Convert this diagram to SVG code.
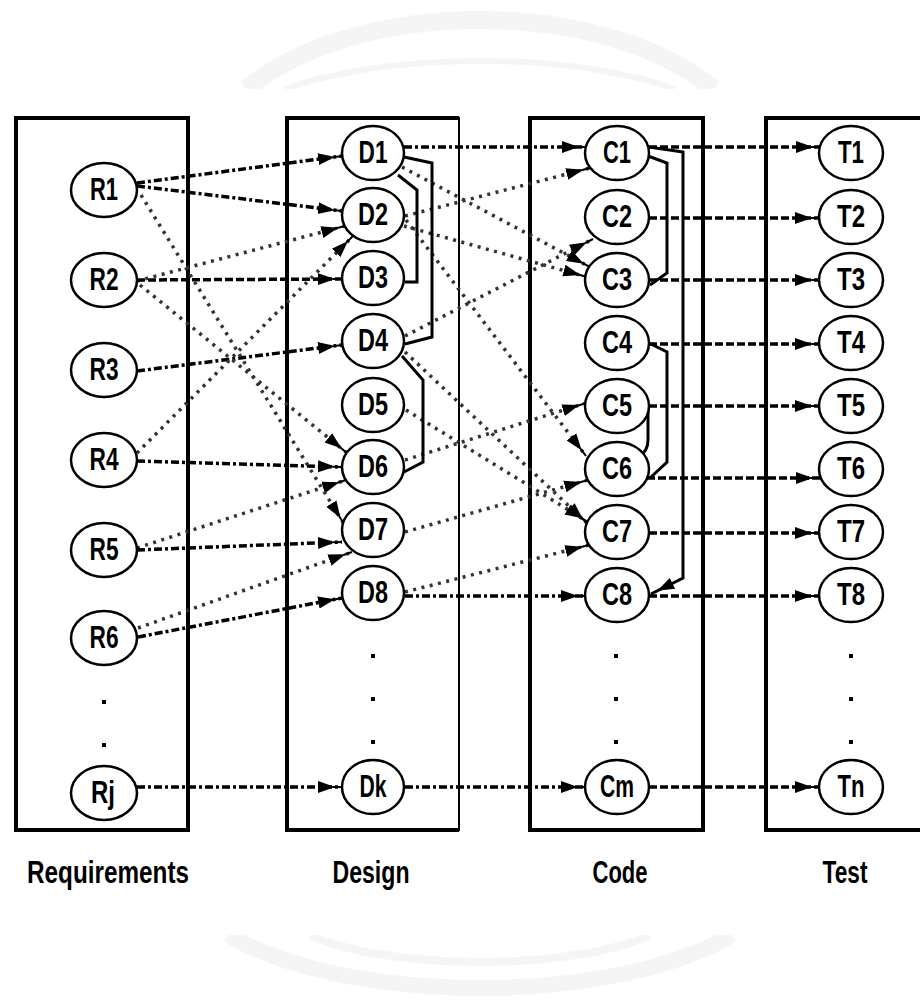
<svg xmlns="http://www.w3.org/2000/svg" width="920" height="1000" viewBox="0 0 920 1000">
<defs>
<style>
.box{fill:none;stroke:#000;stroke-width:4}
.node ellipse{fill:#fff;stroke:#000;stroke-width:2.5}
.lbl{font-family:"Liberation Sans",Arial,sans-serif;font-weight:bold;font-size:32px;text-anchor:middle;fill:#000}
.cap{font-family:"Liberation Sans",Arial,sans-serif;font-weight:bold;font-size:31px;text-anchor:middle;fill:#000}
.s{fill:none;stroke:#000;stroke-width:3.5;stroke-dasharray:8 3 3 3}
.h{fill:none;stroke:#000;stroke-width:3.5;stroke-dasharray:8 3}
.w{fill:none;stroke:#333;stroke-width:3.5;stroke-dasharray:3 5.5}
.br{fill:none;stroke:#000;stroke-width:3}
.wm{fill:none;stroke:#f5f5f5}
.dot{fill:#000}
</style>
<marker id="a" markerUnits="userSpaceOnUse" markerWidth="28" markerHeight="18" viewBox="0 0 28 18" refX="24" refY="9" orient="auto">
<path d="M0,3 L17,9 L0,15 Z" fill="#000"/>
<path d="M15,9 H24" stroke="#000" stroke-width="2"/>
</marker>
<clipPath id="ct"><rect x="0" y="0" width="920" height="89"/></clipPath>
<clipPath id="cb"><rect x="0" y="935" width="920" height="65"/></clipPath>
</defs>
<rect width="920" height="1000" fill="#fff"/>
<g id="watermark">
<g clip-path="url(#ct)">
<path class="wm" stroke-width="18" d="M246,89 A280,153 0 0 1 714,89"/>
<path class="wm" stroke-width="6" d="M285,89 A260,83 0 0 1 675,89"/>
</g>
<g clip-path="url(#cb)">
<path class="wm" stroke-width="16" d="M228,935 A300,116 0 0 0 732,935"/>
<path class="wm" stroke-width="8" d="M310,935 A200,57 0 0 0 650,935"/>
</g>
</g>
<g id="boxes">
<rect id="box-requirements" class="box" x="16" y="118" width="172" height="712"/>
<path id="box-design" class="box" d="M459,118 H287 V830 H459"/>
<path d="M459,117 V831" stroke="#000" stroke-width="2"/>
<rect id="box-code" class="box" x="530" y="118" width="173" height="712"/>
<path id="box-test" class="box" d="M925,118 H766 V830 H925"/>
</g>
<g id="connectors">
<path class="s" d="M137,183 L342,156" marker-end="url(#a)"/>
<path class="s" d="M137,186 L342,211" marker-end="url(#a)"/>
<path class="w" d="M137,281 L345,226" marker-end="url(#a)"/>
<path class="h" d="M137,280 L342,279" marker-end="url(#a)"/>
<path class="s" d="M137,371 L342,345" marker-end="url(#a)"/>
<path class="w" d="M137,453 L353,236" marker-end="url(#a)"/>
<path class="w" d="M140,285 L347,453" marker-end="url(#a)"/>
<path class="s" d="M137,461 L342,467" marker-end="url(#a)"/>
<path class="w" d="M137,548 L346,480" marker-end="url(#a)"/>
<path class="w" d="M141,195 L344,524" marker-end="url(#a)"/>
<path class="s" d="M137,550 L342,542" marker-end="url(#a)"/>
<path class="w" d="M138,628 L352,552" marker-end="url(#a)"/>
<path class="s" d="M138,637 L342,598" marker-end="url(#a)"/>
<path class="s" d="M137,787 L342,787" marker-end="url(#a)"/>
<path class="s" d="M404,147 L586,147" marker-end="url(#a)"/>
<path class="w" d="M405,216 L590,168" marker-end="url(#a)"/>
<path class="w" d="M402,167 L590,267" marker-end="url(#a)"/>
<path class="w" d="M404,226 L587,277" marker-end="url(#a)"/>
<path class="w" d="M406,220 L586,456" marker-end="url(#a)"/>
<path class="w" d="M405,336 L593,239" marker-end="url(#a)"/>
<path class="w" d="M405,352 L588,524" marker-end="url(#a)"/>
<path class="w" d="M406,410 L588,522" marker-end="url(#a)"/>
<path class="w" d="M405,460 L586,403" marker-end="url(#a)"/>
<path class="w" d="M405,532 L588,480" marker-end="url(#a)"/>
<path class="w" d="M405,592 L589,545" marker-end="url(#a)"/>
<path class="s" d="M405,596 L585,596" marker-end="url(#a)"/>
<path class="s" d="M405,787 L585,787" marker-end="url(#a)"/>
<path class="h" d="M649,147 L820,147" marker-end="url(#a)"/>
<path class="h" d="M649,218 L819,218" marker-end="url(#a)"/>
<path class="h" d="M649,280 L819,280" marker-end="url(#a)"/>
<path class="h" d="M649,344 L819,344" marker-end="url(#a)"/>
<path class="h" d="M649,406 L819,406" marker-end="url(#a)"/>
<path class="h" d="M647,478 L820,478" marker-end="url(#a)"/>
<path class="h" d="M649,533 L819,533" marker-end="url(#a)"/>
<path class="h" d="M649,596 L819,596" marker-end="url(#a)"/>
<path class="h" d="M649,787 L819,787" marker-end="url(#a)"/>
<path class="br" d="M398,175 L417,190 L417,282 L405,282"/>
<path class="br" d="M404,157 L432,163 L432,337 L405,344"/>
<path class="br" d="M402,356 L423,380 L423,462 L404,472"/>
<path class="br" d="M648,156 L667,163 L667,273 L650,285"/>
<path class="br" d="M649,147 L683,152 L683,578 L651,594" marker-end="url(#a)"/>
<path class="br" d="M649,343 L667,352 L667,462 L650,478"/>
<path class="br" stroke-width="2.5" d="M648,408 L648,440 Q648,452 638,457"/>
</g>
<g id="R1" class="node"><ellipse cx="104" cy="190" rx="33" ry="27"/><text class="lbl" x="104" y="200" textLength="28" lengthAdjust="spacingAndGlyphs">R1</text></g>
<g id="R2" class="node"><ellipse cx="104" cy="280" rx="33" ry="27"/><text class="lbl" x="104" y="290" textLength="29" lengthAdjust="spacingAndGlyphs">R2</text></g>
<g id="R3" class="node"><ellipse cx="104" cy="370" rx="33" ry="27"/><text class="lbl" x="104" y="380" textLength="29" lengthAdjust="spacingAndGlyphs">R3</text></g>
<g id="R4" class="node"><ellipse cx="104" cy="460" rx="33" ry="27"/><text class="lbl" x="104" y="470" textLength="29" lengthAdjust="spacingAndGlyphs">R4</text></g>
<g id="R5" class="node"><ellipse cx="104" cy="550" rx="33" ry="27"/><text class="lbl" x="104" y="560" textLength="29" lengthAdjust="spacingAndGlyphs">R5</text></g>
<g id="R6" class="node"><ellipse cx="104" cy="638" rx="33" ry="27"/><text class="lbl" x="104" y="648" textLength="29" lengthAdjust="spacingAndGlyphs">R6</text></g>
<g id="Rj" class="node"><ellipse cx="104" cy="793" rx="33" ry="27"/><text class="lbl" x="103" y="803" textLength="24" lengthAdjust="spacingAndGlyphs">Rj</text></g>
<g id="D1" class="node"><ellipse cx="373" cy="153" rx="31" ry="27"/><text class="lbl" x="373" y="163" textLength="29" lengthAdjust="spacingAndGlyphs">D1</text></g>
<g id="D2" class="node"><ellipse cx="373" cy="215" rx="31" ry="27"/><text class="lbl" x="373" y="225" textLength="30" lengthAdjust="spacingAndGlyphs">D2</text></g>
<g id="D3" class="node"><ellipse cx="373" cy="278" rx="31" ry="27"/><text class="lbl" x="373" y="288" textLength="30" lengthAdjust="spacingAndGlyphs">D3</text></g>
<g id="D4" class="node"><ellipse cx="373" cy="341" rx="31" ry="27"/><text class="lbl" x="373" y="351" textLength="30" lengthAdjust="spacingAndGlyphs">D4</text></g>
<g id="D5" class="node"><ellipse cx="373" cy="405" rx="31" ry="27"/><text class="lbl" x="373" y="415" textLength="30" lengthAdjust="spacingAndGlyphs">D5</text></g>
<g id="D6" class="node"><ellipse cx="373" cy="467" rx="31" ry="27"/><text class="lbl" x="373" y="477" textLength="30" lengthAdjust="spacingAndGlyphs">D6</text></g>
<g id="D7" class="node"><ellipse cx="373" cy="530" rx="31" ry="27"/><text class="lbl" x="373" y="540" textLength="30" lengthAdjust="spacingAndGlyphs">D7</text></g>
<g id="D8" class="node"><ellipse cx="373" cy="593" rx="31" ry="27"/><text class="lbl" x="373" y="603" textLength="30" lengthAdjust="spacingAndGlyphs">D8</text></g>
<g id="Dk" class="node"><ellipse cx="373" cy="787" rx="31" ry="27"/><text class="lbl" x="373" y="797" textLength="27" lengthAdjust="spacingAndGlyphs">Dk</text></g>
<g id="C1" class="node"><ellipse cx="617" cy="153" rx="32" ry="27"/><text class="lbl" x="617" y="163" textLength="28" lengthAdjust="spacingAndGlyphs">C1</text></g>
<g id="C2" class="node"><ellipse cx="617" cy="217" rx="32" ry="27"/><text class="lbl" x="617" y="227" textLength="30" lengthAdjust="spacingAndGlyphs">C2</text></g>
<g id="C3" class="node"><ellipse cx="617" cy="280" rx="32" ry="27"/><text class="lbl" x="617" y="290" textLength="30" lengthAdjust="spacingAndGlyphs">C3</text></g>
<g id="C4" class="node"><ellipse cx="617" cy="343" rx="32" ry="27"/><text class="lbl" x="617" y="353" textLength="30" lengthAdjust="spacingAndGlyphs">C4</text></g>
<g id="C5" class="node"><ellipse cx="617" cy="406" rx="32" ry="27"/><text class="lbl" x="617" y="416" textLength="30" lengthAdjust="spacingAndGlyphs">C5</text></g>
<g id="C6" class="node"><ellipse cx="617" cy="469" rx="32" ry="27"/><text class="lbl" x="617" y="479" textLength="30" lengthAdjust="spacingAndGlyphs">C6</text></g>
<g id="C7" class="node"><ellipse cx="617" cy="532" rx="32" ry="27"/><text class="lbl" x="617" y="542" textLength="30" lengthAdjust="spacingAndGlyphs">C7</text></g>
<g id="C8" class="node"><ellipse cx="617" cy="595" rx="32" ry="27"/><text class="lbl" x="617" y="605" textLength="30" lengthAdjust="spacingAndGlyphs">C8</text></g>
<g id="Cm" class="node"><ellipse cx="617" cy="787" rx="32" ry="27"/><text class="lbl" x="617" y="797" textLength="34" lengthAdjust="spacingAndGlyphs">Cm</text></g>
<g id="T1" class="node"><ellipse cx="851" cy="153" rx="32" ry="27"/><text class="lbl" x="851" y="163" textLength="26" lengthAdjust="spacingAndGlyphs">T1</text></g>
<g id="T2" class="node"><ellipse cx="851" cy="217" rx="32" ry="27"/><text class="lbl" x="851" y="227" textLength="28" lengthAdjust="spacingAndGlyphs">T2</text></g>
<g id="T3" class="node"><ellipse cx="851" cy="280" rx="32" ry="27"/><text class="lbl" x="851" y="290" textLength="28" lengthAdjust="spacingAndGlyphs">T3</text></g>
<g id="T4" class="node"><ellipse cx="851" cy="343" rx="32" ry="27"/><text class="lbl" x="851" y="353" textLength="28" lengthAdjust="spacingAndGlyphs">T4</text></g>
<g id="T5" class="node"><ellipse cx="851" cy="406" rx="32" ry="27"/><text class="lbl" x="851" y="416" textLength="28" lengthAdjust="spacingAndGlyphs">T5</text></g>
<g id="T6" class="node"><ellipse cx="851" cy="469" rx="32" ry="27"/><text class="lbl" x="851" y="479" textLength="28" lengthAdjust="spacingAndGlyphs">T6</text></g>
<g id="T7" class="node"><ellipse cx="851" cy="532" rx="32" ry="27"/><text class="lbl" x="851" y="542" textLength="28" lengthAdjust="spacingAndGlyphs">T7</text></g>
<g id="T8" class="node"><ellipse cx="851" cy="595" rx="32" ry="27"/><text class="lbl" x="851" y="605" textLength="28" lengthAdjust="spacingAndGlyphs">T8</text></g>
<g id="Tn" class="node"><ellipse cx="851" cy="787" rx="32" ry="27"/><text class="lbl" x="851" y="797" textLength="27" lengthAdjust="spacingAndGlyphs">Tn</text></g>
<g id="ellipsis">
<rect class="dot" x="102" y="700" width="4" height="4"/>
<rect class="dot" x="102" y="743" width="4" height="4"/>
<rect class="dot" x="371" y="654" width="4" height="4"/>
<rect class="dot" x="371" y="697" width="4" height="4"/>
<rect class="dot" x="371" y="740" width="4" height="4"/>
<rect class="dot" x="614" y="654" width="4" height="4"/>
<rect class="dot" x="614" y="697" width="4" height="4"/>
<rect class="dot" x="614" y="740" width="4" height="4"/>
<rect class="dot" x="849" y="654" width="4" height="4"/>
<rect class="dot" x="849" y="697" width="4" height="4"/>
<rect class="dot" x="849" y="740" width="4" height="4"/>
</g>
<g id="captions">
<text class="cap" x="108" y="883" textLength="162" lengthAdjust="spacingAndGlyphs">Requirements</text>
<text class="cap" x="371" y="883" textLength="77" lengthAdjust="spacingAndGlyphs">Design</text>
<text class="cap" x="620" y="883" textLength="55" lengthAdjust="spacingAndGlyphs">Code</text>
<text class="cap" x="845" y="883" textLength="45" lengthAdjust="spacingAndGlyphs">Test</text>
</g>
</svg>
